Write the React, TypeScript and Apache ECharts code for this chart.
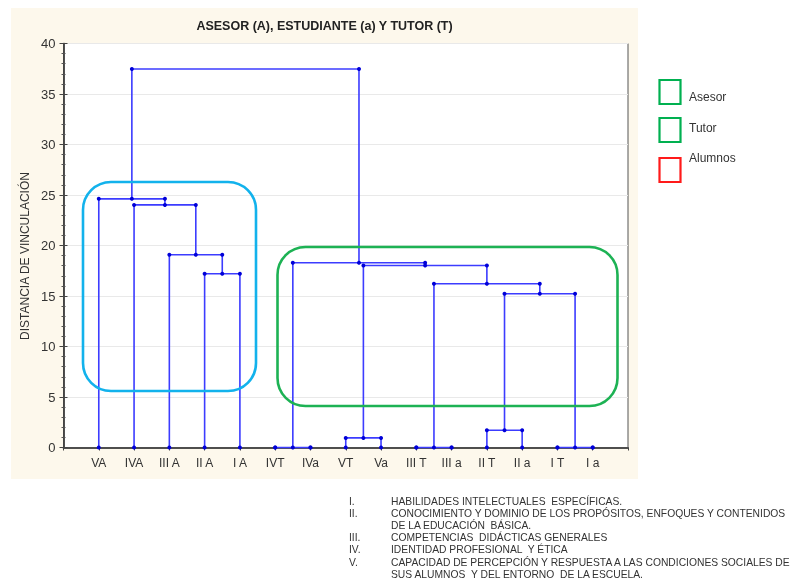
import React, { useEffect, useRef } from "react";
import * as echarts from "echarts";

const leaves = ["VA", "IVA", "III A", "II A", "I A", "IVT", "IVa", "VT", "Va", "III T", "III a", "II T", "II a", "I T", "I a"];
// clusters 15.. are formed in this order; children refer to leaf index (0..14) or cluster index (15..)
const mergeLeft = [5, 9, 13, 7, 11, 3, 2, 1, 0, 19, 16, 18, 15, 23];
const mergeRight = [6, 10, 14, 8, 12, 4, 20, 21, 22, 17, 24, 25, 26, 27];
const mergeHeight = [0, 0, 0, 0.95, 1.71, 17.2, 19.08, 24.02, 24.62, 15.22, 16.21, 18.02, 18.29, 37.47];
const yTicks = [0, 5, 10, 15, 20, 25, 30, 35, 40];

const titleText = "ASESOR (A), ESTUDIANTE (a) Y TUTOR (T)";
const yName = "DISTANCIA DE VINCULACIÓN";
const legendItems = ["Asesor", "Tutor", "Alumnos"];
const noteNums = ["I.", "II.", "", "III.", "IV.", "V.", ""];
const noteLines = [
  "HABILIDADES INTELECTUALES  ESPECÍFICAS.",
  "CONOCIMIENTO Y DOMINIO DE LOS PROPÓSITOS, ENFOQUES Y CONTENIDOS",
  "DE LA EDUCACIÓN  BÁSICA.",
  "COMPETENCIAS  DIDÁCTICAS GENERALES",
  "IDENTIDAD PROFESIONAL  Y ÉTICA",
  "CAPACIDAD DE PERCEPCIÓN Y RESPUESTA A LAS CONDICIONES SOCIALES DE",
  "SUS ALUMNOS  Y DEL ENTORNO  DE LA ESCUELA.",
];

const FONT = "'Liberation Sans', Arial, sans-serif";

export default function App() {
  const ref = useRef<HTMLDivElement>(null);
  useEffect(() => {
    if (!ref.current) return;
    const chart = echarts.init(ref.current, null, { renderer: "svg" });

    const pos: number[] = leaves.map((_, i) => i + 1);
    const hgt: number[] = leaves.map(() => 0);
    const series: any[] = [];
    for (let k = 0; k < mergeLeft.length; k++) {
      const a = mergeLeft[k];
      const b = mergeRight[k];
      const h = mergeHeight[k];
      series.push({
        type: "line",
        data: [
          [pos[a], hgt[a]],
          [pos[a], h],
          [pos[b], h],
          [pos[b], hgt[b]],
        ],
        symbol: "circle",
        symbolSize: 4,
        showAllSymbol: true,
        clip: false,
        lineStyle: { color: "#3c3cff", width: 1.6 },
        itemStyle: { color: "#0000d8" },
        emphasis: { disabled: true },
        z: 5,
      });
      pos.push((pos[a] + pos[b]) / 2);
      hgt.push(h);
    }

    const legendColors = ["#00b050", "#00b050", "#ff1a1a"];
    const legendBoxY = [80, 118, 158];
    const legendTextY = [97, 128, 158];

    const graphic: any[] = [
      { type: "rect", z: -10, shape: { x: 11, y: 8, width: 627, height: 471 }, style: { fill: "#fdf8ec" } },
      {
        type: "text", x: 324.5, y: 26,
        style: { text: titleText, font: `bold 12.5px ${FONT}`, fill: "#222", textAlign: "center", textVerticalAlign: "middle" },
      },
      {
        type: "text", x: 25, y: 256, rotation: Math.PI / 2,
        style: { text: yName, font: `12px ${FONT}`, fill: "#333", textAlign: "center", textVerticalAlign: "middle" },
      },
      {
        type: "rect", z: 100,
        shape: { x: 83, y: 182, width: 173, height: 209, r: 28 },
        style: { fill: "none", stroke: "#12b2ec", lineWidth: 2.6 },
      },
      {
        type: "rect", z: 100,
        shape: { x: 277.5, y: 247, width: 340, height: 159, r: 28 },
        style: { fill: "none", stroke: "#1db254", lineWidth: 2.6 },
      },
    ];
    legendItems.forEach((t, i) => {
      graphic.push({
        type: "rect",
        shape: { x: 659.5, y: legendBoxY[i], width: 21, height: 24 },
        style: { fill: "#fff", stroke: legendColors[i], lineWidth: 2.2 },
      });
      graphic.push({
        type: "text", x: 689, y: legendTextY[i],
        style: { text: t, font: `12px ${FONT}`, fill: "#333", textVerticalAlign: "middle" },
      });
    });
    const noteY = [501, 513, 525, 537, 549, 562, 574];
    noteLines.forEach((t, i) => {
      if (noteNums[i]) {
        graphic.push({
          type: "text", x: 349, y: noteY[i],
          style: { text: noteNums[i], font: `10.3px ${FONT}`, fill: "#333", textVerticalAlign: "middle" },
        });
      }
      graphic.push({
        type: "text", x: 391, y: noteY[i],
        style: { text: t, font: `10.3px ${FONT}`, fill: "#333", textVerticalAlign: "middle" },
      });
    });

    chart.setOption({
      animation: false,
      textStyle: { fontFamily: FONT },
      grid: {
        left: 63.5, top: 43.5, right: 166, bottom: 134.5,
        show: true, backgroundColor: "#ffffff", borderColor: "#555", borderWidth: 1,
      },
      xAxis: [
        {
          type: "value", min: 0, max: 16, interval: 1,
          axisLine: { show: true, lineStyle: { color: "#444", width: 1.5 } },
          axisTick: { show: false },
          splitLine: { show: false },
          axisLabel: {
            color: "#333", fontSize: 12, margin: 9,
            formatter: (v: number) => (v >= 1 && v <= leaves.length ? leaves[v - 1] : ""),
          },
        },
        {
          type: "value", min: 0, max: 16, interval: 1, position: "top",
          axisLine: { show: true, lineStyle: { color: "#444", width: 1.5 } },
          axisTick: { show: true, inside: true, length: 3, lineStyle: { color: "#444" } },
          splitLine: { show: false },
          axisLabel: { show: false },
        },
      ],
      yAxis: [
        {
          type: "value", min: yTicks[0], max: yTicks[yTicks.length - 1], interval: 5,
          axisLine: { show: true, lineStyle: { color: "#444", width: 1.5 } },
          axisTick: { show: true, inside: true, length: 4, lineStyle: { color: "#444" } },
          minorTick: { show: true, splitNumber: 5, length: 2, lineStyle: { color: "#555" } },
          splitLine: { show: true, lineStyle: { color: "#e9e9e9", width: 1.2 } },
          axisLabel: { color: "#333", fontSize: 13, margin: 8 },
        },
        {
          type: "value", min: yTicks[0], max: yTicks[yTicks.length - 1], interval: 5, position: "right",
          axisLine: { show: true, lineStyle: { color: "#444", width: 1.5 } },
          axisTick: { show: true, inside: true, length: 4, lineStyle: { color: "#444" } },
          minorTick: { show: true, splitNumber: 5, length: 2, lineStyle: { color: "#555" } },
          splitLine: { show: false },
          axisLabel: { show: false },
        },
      ],
      series,
      graphic,
    });
    return () => chart.dispose();
  }, []);
  return <div ref={ref} style={{ position: "fixed", left: 0, top: 0, width: 794, height: 582 }} />;
}
